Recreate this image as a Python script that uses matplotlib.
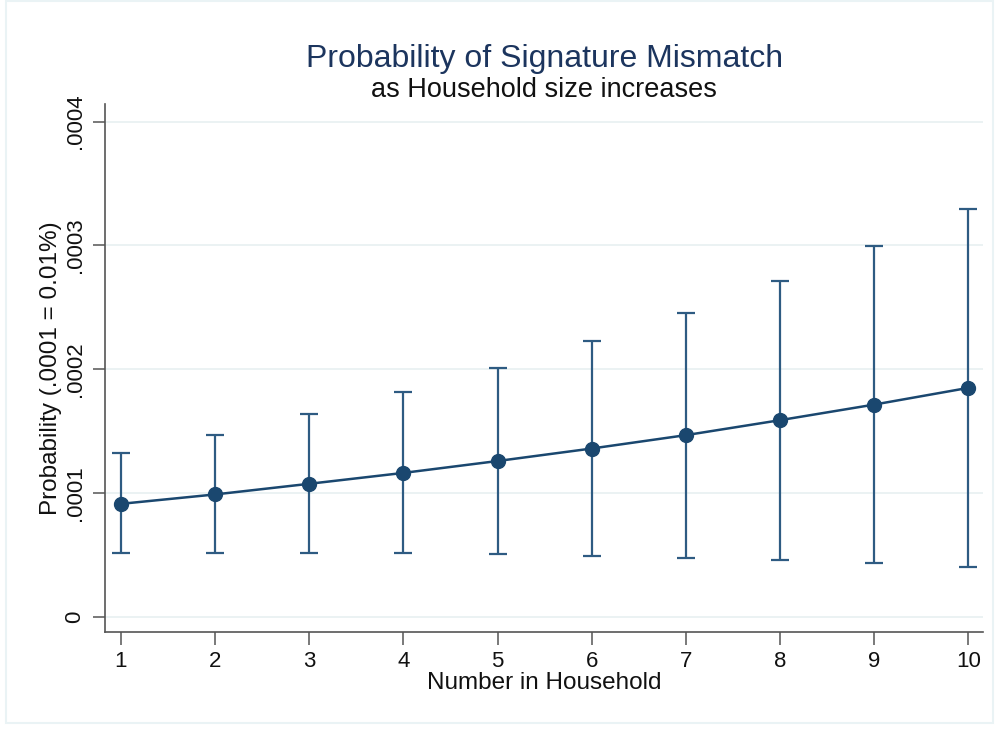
import matplotlib
matplotlib.use("Agg")
import matplotlib.pyplot as plt
import numpy as np

# household size vs predicted probability with 95% CI
hh_size = [1, 2, 3, 4, 5, 6, 7, 8, 9, 10]
prob = [0.0000911, 0.0000987, 0.0001073, 0.0001161, 0.0001257,
        0.0001358, 0.0001466, 0.0001587, 0.0001713, 0.0001848]
ci_lo = [0.0000510, 0.0000510, 0.0000510, 0.0000510, 0.0000505,
         0.0000491, 0.0000475, 0.0000457, 0.0000435, 0.0000403]
ci_hi = [0.0001318, 0.0001469, 0.0001635, 0.0001813, 0.0002007,
         0.0002225, 0.0002456, 0.0002715, 0.0002992, 0.0003291]
yticks = [0, 0.0001, 0.0002, 0.0003, 0.0004]
ytick_labels = ["0", ".0001", ".0002", ".0003", ".0004"]

plt.rcParams["font.family"] = ["Liberation Sans", "DejaVu Sans"]
NAVY = "#1a476f"
CAP = "#2e5b82"

fig = plt.figure(figsize=(9.97, 7.29), dpi=100)
ax = fig.add_axes([0.1053, 0.133, 0.881, 0.724])

x = np.array(hh_size)
p = np.array(prob)
lo = np.array(ci_lo); hi = np.array(ci_hi)
ax.errorbar(x, p, yerr=[p - lo, hi - p], fmt="none", ecolor=CAP,
            elinewidth=1.6, capsize=6.5, capthick=1.6, zorder=2)
ax.plot(x, p, color=NAVY, lw=1.8, marker="o", ms=10, mfc=NAVY, mec=NAVY, zorder=3)

ax.set_xlim(0.83, 10.16)
ax.set_ylim(-0.0000125, 0.000414)
ax.set_xticks(hh_size)
ax.set_xticklabels([str(v) for v in hh_size], fontsize=16, color="#111111")
ax.set_yticks(yticks)
ax.set_yticklabels(ytick_labels, rotation=90, va="center", fontsize=16, color="#111111")
ax.grid(axis="y", color="#e8f0f1", lw=1.2)
ax.set_axisbelow(True)

for s in ["top", "right"]:
    ax.spines[s].set_visible(False)
for s in ["left", "bottom"]:
    ax.spines[s].set_color("#555555"); ax.spines[s].set_linewidth(1.2)
ax.tick_params(direction="out", length=9, width=1.1, color="#555555", pad=5)

ax.set_xlabel("Number in Household", fontsize=17.5, color="#111111", labelpad=0)
ax.set_ylabel("Probability (.0001 = 0.01%)", fontsize=17.5, color="#111111", labelpad=2)

fig.text(0.546, 0.919, "Probability of Signature Mismatch", ha="center", va="center",
         fontsize=23, color="#1c355e")
fig.text(0.546, 0.877, "as Household size increases", ha="center", va="center",
         fontsize=19.5, color="#111111")

# faint frame around the graph region
fig.add_artist(plt.Rectangle((0.006, 0.008), 0.99, 0.99, transform=fig.transFigure,
                             fill=False, ec="#eaf3f5", lw=1.5))

fig.savefig("out.png", dpi=100)
